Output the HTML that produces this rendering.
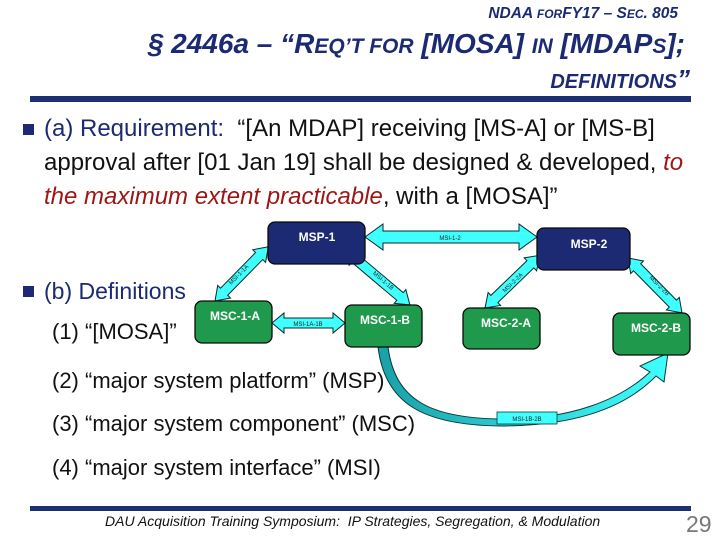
<!DOCTYPE html>
<html><head><meta charset="utf-8"><style>
html,body{margin:0;padding:0;background:#fff;}
body{width:720px;height:540px;position:relative;overflow:hidden;font-family:"Liberation Sans",sans-serif;}
.t{position:absolute;white-space:nowrap;}
.bar{position:absolute;left:30px;width:661px;background:#1b2f72;}
.sq{position:absolute;width:11px;height:11px;background:#1b2a72;}
</style></head><body>
<div class="t" style="right:42px;top:5px;font-size:15.5px;font-style:italic;font-weight:bold;color:#1b2a72;">NDAA <span style="font-size:12px">FOR</span>FY17 – S<span style="font-size:12px">EC</span>. 805</div>
<div class="t" style="right:35px;top:28px;font-size:28px;font-style:italic;font-weight:bold;color:#1b2a72;">§ 2446a – “R<span style="font-size:21px">EQ’T FOR</span> [MOSA] <span style="font-size:21px">IN</span> [MDAP<span style="font-size:21px">S</span>];</div>
<div class="t" style="right:30px;top:64px;font-size:20px;font-style:italic;font-weight:bold;color:#1b2a72;">DEFINITIONS<span style="font-size:26px">”</span></div>
<div class="bar" style="top:96px;height:6px;"></div>

<div class="sq" style="left:23px;top:124px;"></div>
<div class="t" style="left:44px;top:115px;font-size:24px;color:#1b2a72;">(a) Requirement:&nbsp; <span style="color:#111">“[An MDAP] receiving [MS-A] or [MS-B]</span></div>
<div class="t" style="left:44px;top:149px;font-size:24px;color:#111;">approval after [01 Jan 19] shall be designed &amp; developed, <i style="color:#9e1515">to</i></div>
<div class="t" style="left:44px;top:183px;font-size:24px;color:#111;"><i style="color:#9e1515">the maximum extent practicable</i>, with a [MOSA]”</div>

<div class="sq" style="left:23px;top:286px;"></div>
<div class="t" style="left:44px;top:278px;font-size:23px;color:#1b2a72;">(b) Definitions</div>
<div class="t" style="left:52px;top:319px;font-size:22px;color:#111;">(1) “[MOSA]”</div>
<div class="t" style="left:52px;top:368px;font-size:22px;color:#111;">(2) “major system platform” (MSP)</div>
<div class="t" style="left:52px;top:411px;font-size:22px;color:#111;">(3) “major system component” (MSC)</div>
<div class="t" style="left:52px;top:455px;font-size:22px;color:#111;">(4) “major system interface” (MSI)</div>

<svg width="720" height="540" style="position:absolute;left:0;top:0" font-family="Liberation Sans, sans-serif">
<defs>
<linearGradient id="cg" x1="0" y1="0" x2="1" y2="0"><stop offset="0" stop-color="#1aa0a8"/><stop offset="1" stop-color="#40ffff"/></linearGradient>
</defs>
<path d="M388,347 C395,400 430,418 500,419 C570,420 620,400 650,372 L640,366 L668,353 L664,382 L656,376 C625,408 575,426 500,426 C425,425 385,405 378,347 Z" fill="url(#cg)" stroke="#0b3a3a" stroke-width="1"/>
<rect x="497" y="412" width="60" height="12" fill="#40ffff" stroke="#0b3a3a" stroke-width="0.8"/>
<text x="527" y="421" font-size="6" text-anchor="middle" fill="#222">MSI-1B-2B</text>

<g fill="#40ffff" stroke="#0b2a2a" stroke-width="1">
<polygon transform="translate(365,237)" points="0,0 18,-13 18,-6 154,-6 154,-13 172,0 154,13 154,6 18,6 18,13"/>
<polygon transform="translate(272,323)" points="0,0 12,-10 12,-5 61,-5 61,-10 73,0 61,10 61,5 12,5 12,10"/>
<polygon transform="translate(215,301) rotate(-45.5)" points="0,0 13,-9 13,-5 63,-5 63,-9 76,0 63,9 63,5 13,5 13,9"/>
<polygon transform="translate(345,250) rotate(40.2)" points="0,0 13,-9 13,-5 72,-5 72,-9 85,0 72,9 72,5 13,5 13,9"/>
<polygon transform="translate(485,308) rotate(-43.9)" points="0,0 13,-9 13,-5 63,-5 63,-9 76,0 63,9 63,5 13,5 13,9"/>
<polygon transform="translate(628,258) rotate(45.5)" points="0,0 13,-9 13,-5 64,-5 64,-9 77,0 64,9 64,5 13,5 13,9"/>
</g>
<g font-size="6" fill="#222" text-anchor="middle">
<text x="450" y="240">MSI-1-2</text>
<text x="308" y="326">MSI-1A-1B</text>
<text transform="translate(240,276) rotate(-45.5)">MSI-1-1A</text>
<text transform="translate(382,282) rotate(40.2)">MSI-1-1B</text>
<text transform="translate(514,284) rotate(-43.9)">MSI-2-2A</text>
<text transform="translate(658,287) rotate(45.5)">MSI-2-2B</text>
</g>

<g stroke="#0a0a0a" stroke-width="1.3">
<rect x="268" y="222" width="97" height="42" rx="7" fill="#1b2a72"/>
<rect x="537" y="228" width="93" height="42" rx="7" fill="#1b2a72"/>
<rect x="195" y="301" width="77" height="42" rx="7" fill="#1f9a4c"/>
<rect x="345" y="305" width="77" height="42" rx="7" fill="#1f9a4c"/>
<rect x="463" y="308" width="77" height="41" rx="7" fill="#1f9a4c"/>
<rect x="613" y="313" width="77" height="42" rx="7" fill="#1f9a4c"/>
</g>
<g font-size="12" font-weight="bold" fill="#fff" text-anchor="middle">
<text x="317" y="241">MSP-1</text>
<text x="589" y="248">MSP-2</text>
<text x="235" y="320">MSC-1-A</text>
<text x="385" y="324">MSC-1-B</text>
<text x="506" y="327">MSC-2-A</text>
<text x="656" y="332">MSC-2-B</text>
</g>
</svg>

<div class="bar" style="top:506px;height:5px;"></div>
<div class="t" style="left:105px;top:513px;font-size:14px;font-style:italic;color:#111;">DAU Acquisition Training Symposium:&nbsp; IP Strategies, Segregation, &amp; Modulation</div>
<div class="t" style="left:686px;top:511px;font-size:23px;color:#777;">29</div>
</body></html>
